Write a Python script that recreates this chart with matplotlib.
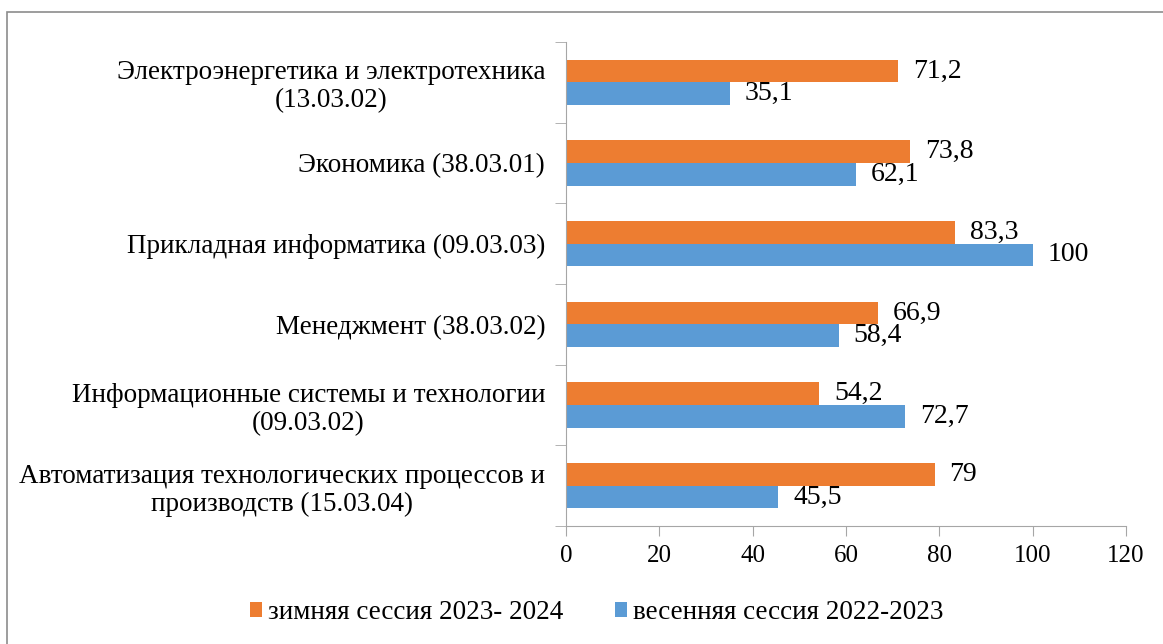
import matplotlib.pyplot as plt
from matplotlib.patches import Rectangle
import numpy as np

plt.rcParams['font.family'] = ['Liberation Serif', 'DejaVu Serif']

# направления подготовки (сверху вниз)
categories = [
    "Электроэнергетика и электротехника\n(13.03.02)",
    "Экономика (38.03.01)",
    "Прикладная информатика (09.03.03)",
    "Менеджмент (38.03.02)",
    "Информационные системы и технологии\n(09.03.02)",
    "Автоматизация технологических процессов и\nпроизводств (15.03.04)",
]
winter = [71.2, 73.8, 83.3, 66.9, 54.2, 79]
spring = [35.1, 62.1, 100, 58.4, 72.7, 45.5]
winter_labels = ["71,2", "73,8", "83,3", "66,9", "54,2", "79"]
spring_labels = ["35,1", "62,1", "100", "58,4", "72,7", "45,5"]
xticks = [0, 20, 40, 60, 80, 100, 120]

orange = '#ED7D31'
blue = '#5B9BD5'
grey = '#A6A6A6'

fig = plt.figure(figsize=(11.63, 6.44), dpi=100)
ax = fig.add_axes([0.4867, 0.1832, 0.4815, 0.7516])

y = np.arange(len(categories))
h = 0.28
ax.barh(y - h/2, winter, height=h, color=orange, label='зимняя сессия 2023- 2024')
ax.barh(y + h/2, spring, height=h, color=blue, label='весенняя сессия 2022-2023')

for i in range(len(categories)):
    ax.text(winter[i] + 3.2, y[i] - h/2, winter_labels[i], va='center', ha='left', fontsize=20)
    ax.text(spring[i] + 3.2, y[i] + h/2, spring_labels[i], va='center', ha='left', fontsize=20)

ax.set_xlim(0, 120)
ax.set_ylim(len(categories) - 0.5, -0.5)
ax.set_xticks(xticks)
ax.set_xticklabels([str(t) for t in xticks], fontsize=18)
ax.set_yticks(y)
ax.set_yticklabels(categories, fontsize=19.5, multialignment='center', linespacing=1.15)
ax.set_yticks(np.arange(len(categories) + 1) - 0.5, minor=True)
ax.tick_params(axis='y', which='major', length=0, pad=15)
ax.tick_params(axis='y', which='minor', length=8, color=grey, direction='out')
ax.tick_params(axis='x', length=7, color=grey, direction='out', pad=7)

for s in ['top', 'right']:
    ax.spines[s].set_visible(False)
for s in ['left', 'bottom']:
    ax.spines[s].set_color(grey)

fig.legend(loc='center', bbox_to_anchor=(0.513, 0.049), ncol=2, frameon=False,
           fontsize=19.5, handlelength=0.45, handleheight=0.45, handletextpad=0.22,
           columnspacing=1.9)

fig.patches.append(Rectangle((7/1163, -0.1), 1.2, 1.1 - 12/644, transform=fig.transFigure,
                             fill=False, edgecolor='#8C8C8C', linewidth=1.2))

fig.savefig('out.png', dpi=100)
